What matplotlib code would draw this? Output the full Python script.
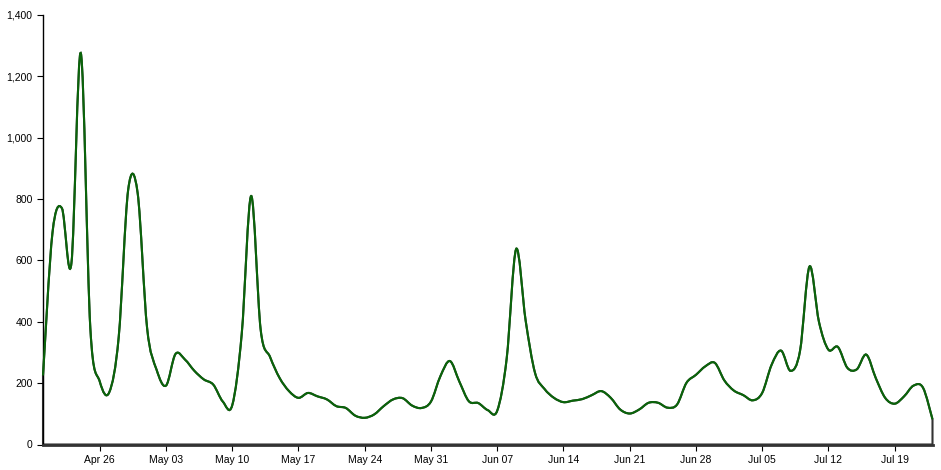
import numpy as np
import pandas as pd
import matplotlib
matplotlib.use("Agg")
import matplotlib.pyplot as plt
import matplotlib.dates as mdates
from matplotlib.path import Path
from matplotlib.patches import PathPatch
from matplotlib.ticker import FuncFormatter

plt.rcParams['font.family'] = ['Liberation Sans', 'DejaVu Sans']

# daily values, Apr 20 -> Jul 23
start_date = "2015-04-20"
values = [
    225, 690, 770, 590, 1275, 380, 205, 170, 350, 830,      # Apr 20 - Apr 29
    820, 380, 244, 192, 295, 277, 240, 212, 195, 140,       # Apr 30 - May 09
    128, 360, 810, 375, 285, 217, 174, 152, 168, 157,       # May 10 - May 19
    147, 125, 119, 94, 87, 98, 125, 147, 151, 127,          # May 20 - May 29
    119, 140, 223, 272, 205, 141, 135, 112, 110, 280,       # May 30 - Jun 08
    637, 405, 233, 181, 152, 138, 143, 148, 161, 174,       # Jun 09 - Jun 18
    152, 114, 101, 114, 136, 136, 120, 130, 201, 227,       # Jun 19 - Jun 28
    255, 266, 209, 176, 161, 144, 168, 260, 306, 240,       # Jun 29 - Jul 08
    305, 580, 400, 309, 318, 250, 245, 293, 217, 152,       # Jul 09 - Jul 18
    133, 157, 192, 185, 82,                                 # Jul 19 - Jul 23
]
dates = pd.date_range(start_date, periods=len(values), freq="D")
y_ticks = [0, 200, 400, 600, 800, 1000, 1200, 1400]

fig = plt.figure(figsize=(9.41, 4.70), dpi=100)
ax = fig.add_axes([43/941, (470-444.5)/470, (932.5-43)/941, (444.5-15)/470])

x = mdates.date2num(dates)
y = np.array(values, dtype=float)

# cardinal (catmull-rom) curve as cubic beziers, like d3.curveCardinal
xp = np.concatenate([[x[0]], x, [x[-1]]])
yp = np.concatenate([[y[0]], y, [y[-1]]])
verts = [(x[0], y[0])]
codes = [Path.MOVETO]
for i in range(len(x) - 1):
    c1 = (xp[i+1] + (xp[i+2] - xp[i]) / 6, yp[i+1] + (yp[i+2] - yp[i]) / 6)
    c2 = (xp[i+2] - (xp[i+3] - xp[i+1]) / 6, yp[i+2] - (yp[i+3] - yp[i+1]) / 6)
    verts += [c1, c2, (xp[i+2], yp[i+2])]
    codes += [Path.CURVE4] * 3

# area outline under the line
area_verts = verts + [(x[-1], 0), (x[0], 0), (x[0], 0)]
area_codes = codes + [Path.LINETO, Path.LINETO, Path.CLOSEPOLY]
ax.add_patch(PathPatch(Path(area_verts, area_codes), fill=False,
                       edgecolor="#333333", lw=1.5, clip_on=False))
ax.add_patch(PathPatch(Path(verts, codes), fill=False,
                       edgecolor="#0a640a", lw=1.5, clip_on=False, zorder=3))

ax.set_xlim(x[0], x[-1])
ax.set_ylim(0, 1400)
ax.set_yticks(y_ticks)
ax.yaxis.set_major_formatter(FuncFormatter(lambda v, p: f"{int(v):,}"))
ax.xaxis.set_major_locator(mdates.WeekdayLocator(byweekday=mdates.SU))
ax.xaxis.set_major_formatter(mdates.DateFormatter("%b %d"))

for s in ["top", "right"]:
    ax.spines[s].set_visible(False)
ax.spines["left"].set_color("black")
ax.spines["left"].set_linewidth(1)
ax.spines["bottom"].set_color("#333333")
ax.spines["bottom"].set_linewidth(2)
ax.tick_params(axis="both", labelsize=7.5, colors="black", length=4.5, width=0.8, pad=3)

fig.savefig("out.png", dpi=100)
